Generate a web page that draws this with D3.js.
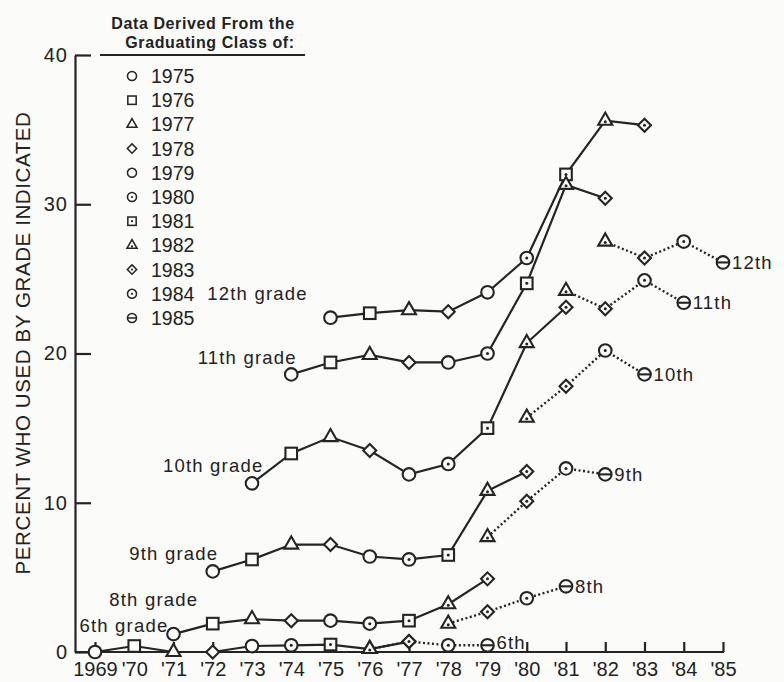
<!DOCTYPE html>
<html>
<head>
<meta charset="utf-8">
<script src="https://cdn.jsdelivr.net/npm/d3@7"></script>
<style>
  body { margin: 0; background: #fbfbf9; }
  svg { display: block; font-family: "Liberation Sans", Arial, sans-serif; }
  text { fill: #222; }
</style>
</head>
<body>
<svg id="chart" width="784" height="682"></svg>
<script>
// graduating classes, each class has its own marker
let classes = [1975, 1976, 1977, 1978, 1979, 1980, 1981, 1982, 1983, 1984, 1985];

// x axis tick labels, one per year
let years = d3.range(1969, 1986);
let yearLabels = ["1969", "'70", "'71", "'72", "'73", "'74", "'75", "'76", "'77",
    "'78", "'79", "'80", "'81", "'82", "'83", "'84", "'85"];

let grades = ["12th", "11th", "10th", "9th", "8th", "6th"];
let gradeNum = [12, 11, 10, 9, 8, 6];

// solid lines: classes of 1975 .. 1983
let solid12 = [22.4, 22.7, 22.9, 22.8, 24.1, 26.4, 32.0, 35.6, 35.3];
let solid11 = [18.6, 19.4, 19.9, 19.4, 19.4, 20.0, 24.7, 31.3, 30.4];
let solid10 = [11.3, 13.3, 14.4, 13.5, 11.9, 12.6, 15.0, 20.7, 23.1];
let solid9 = [5.4, 6.2, 7.2, 7.2, 6.4, 6.2, 6.5, 10.8, 12.1];
let solid8 = [1.2, 1.9, 2.2, 2.1, 2.1, 1.9, 2.1, 3.2, 4.9];
let solid6 = [0.0, 0.4, 0.0, 0.0, 0.4, 0.45, 0.5, 0.2, 0.7];

// dotted lines: classes of 1982 .. 1985
let dotted12 = [27.5, 26.4, 27.5, 26.1];
let dotted11 = [24.2, 23.0, 24.9, 23.4];
let dotted10 = [15.7, 17.8, 20.2, 18.6];
let dotted9 = [7.7, 10.1, 12.3, 11.9];
let dotted8 = [1.9, 2.7, 3.6, 4.4];
let dotted6 = [0.2, 0.7, 0.45, 0.45];

let solidSeries = [solid12, solid11, solid10, solid9, solid8, solid6];
let dottedSeries = [dotted12, dotted11, dotted10, dotted9, dotted8, dotted6];

// where the "Nth grade" labels sit, in (year, percent)
let gradeLabelAt = [[1974.42, 24.0], [1974.14, 19.7], [1973.29, 12.5],
    [1972.14, 6.6], [1971.63, 3.5], [1970.87, 1.8]];

// marker look for each class
let shapeOf = {
    1975: ["circle", false], 1976: ["square", false], 1977: ["triangle", false],
    1978: ["diamond", false], 1979: ["circle", false], 1980: ["circle", true],
    1981: ["square", true], 1982: ["triangle", true], 1983: ["diamond", true],
    1984: ["circle", true], 1985: ["theta", false]
};

let ink = "#242424";
let paper = "#fbfbf9";
let svg = d3.select("#chart");

let x = d3.scaleLinear().domain([1969, 1985]).range([95, 723]);
let y = d3.scaleLinear().domain([0, 40]).range([652, 55]);

// y axis
let yAxis = svg.append("g")
    .attr("transform", "translate(75,0)")
    .call(d3.axisLeft(y).tickValues([0, 10, 20, 30, 40]).tickSizeInner(-16).tickSizeOuter(0).tickPadding(7));
yAxis.selectAll("path, line").attr("stroke", ink).attr("stroke-width", 2.2);
yAxis.selectAll("text").attr("font-size", 20).attr("font-family", "Liberation Sans, Arial")
    .attr("fill", ink).attr("letter-spacing", 1);

// x axis
let xAxis = svg.append("g")
    .attr("transform", "translate(0,652)")
    .call(d3.axisBottom(x).tickValues(years).tickFormat(function (d, i) { return yearLabels[i]; })
        .tickSizeInner(-10).tickSizeOuter(0).tickPadding(10));
xAxis.select(".domain").remove();
xAxis.selectAll("line").attr("stroke", ink).attr("stroke-width", 2.2);
xAxis.selectAll("text").attr("font-size", 20).attr("font-family", "Liberation Sans, Arial")
    .attr("fill", ink);
xAxis.append("line")
    .attr("x1", 75).attr("x2", x(1985) + 1)
    .attr("stroke", ink).attr("stroke-width", 2.2);

// y axis title
svg.append("text")
    .attr("transform", "translate(30,343) rotate(-90)")
    .attr("text-anchor", "middle")
    .attr("font-size", 20.5)
    .attr("letter-spacing", 0.6)
    .text("PERCENT WHO USED BY GRADE INDICATED");

// draws one marker at (cx, cy)
let drawMarker = function (g, cls, cx, cy, k) {
    let kind = shapeOf[cls][0];
    let dot = shapeOf[cls][1];
    let m = g.append("g").attr("transform", "translate(" + cx + "," + cy + ")");
    let sw = 2.1 * k;
    if (kind === "circle" || kind === "theta") {
        m.append("circle").attr("r", 6.3 * k).attr("fill", paper).attr("stroke", ink).attr("stroke-width", sw);
        if (kind === "theta") {
            m.append("line").attr("x1", -6.3 * k).attr("x2", 6.3 * k).attr("stroke", ink).attr("stroke-width", sw);
        }
    } else if (kind === "square") {
        m.append("rect").attr("x", -5.8 * k).attr("y", -5.8 * k).attr("width", 11.6 * k).attr("height", 11.6 * k)
            .attr("fill", paper).attr("stroke", ink).attr("stroke-width", sw);
    } else if (kind === "triangle") {
        m.append("path").attr("d", d3.symbol().type(d3.symbolTriangle).size(85 * k * k)())
            .attr("fill", paper).attr("stroke", ink).attr("stroke-width", sw);
    } else if (kind === "diamond") {
        m.append("rect").attr("x", -4.6 * k).attr("y", -4.6 * k).attr("width", 9.2 * k).attr("height", 9.2 * k)
            .attr("transform", "rotate(45)")
            .attr("fill", paper).attr("stroke", ink).attr("stroke-width", sw);
    }
    if (dot) {
        m.append("circle").attr("r", 1.5 * k).attr("cy", kind === "triangle" ? 1 : 0).attr("fill", ink);
    }
}

let line = d3.line()
    .x(function (d) { return x(d.year); })
    .y(function (d) { return y(d.value); });

let plot = svg.append("g");

grades.forEach(function (grade, gi) {
    let offset = 12 - gradeNum[gi];
    let solid = solidSeries[gi].map(function (v, i) {
        return { cls: classes[i], year: classes[i] - offset, value: v };
    });
    let dotted = dottedSeries[gi].map(function (v, i) {
        return { cls: classes[i + 7], year: classes[i + 7] - offset, value: v };
    });

    plot.append("path").datum(solid).attr("d", line)
        .attr("fill", "none").attr("stroke", ink).attr("stroke-width", 2.2);
    plot.append("path").datum(dotted).attr("d", line)
        .attr("fill", "none").attr("stroke", ink).attr("stroke-width", 2.4)
        .attr("stroke-dasharray", "2,2.5");

    solid.forEach(function (d) { drawMarker(plot, d.cls, x(d.year), y(d.value), 1); });
    dotted.forEach(function (d) { drawMarker(plot, d.cls, x(d.year), y(d.value), 1); });

    // grade label at the start of the solid line
    plot.append("text")
        .attr("x", x(gradeLabelAt[gi][0]))
        .attr("y", y(gradeLabelAt[gi][1]))
        .attr("dy", "0.35em")
        .attr("text-anchor", "end")
        .attr("font-size", 18.5)
        .attr("letter-spacing", 1.2)
        .text(grade + " grade");

    // label at the end of the dotted line
    let last = dotted[dotted.length - 1];
    plot.append("text")
        .attr("x", x(last.year) + 9)
        .attr("y", y(last.value) - (gi === 5 ? 3 : 0))
        .attr("dy", "0.36em")
        .attr("font-size", 18.5)
        .attr("letter-spacing", 1.2)
        .text(grade);
});

// legend
let legend = svg.append("g");
legend.append("text").attr("x", 203).attr("y", 29).attr("text-anchor", "middle")
    .attr("font-size", 16).attr("font-weight", "bold").attr("letter-spacing", 0.6).text("Data Derived From the");
legend.append("text").attr("x", 210).attr("y", 48).attr("text-anchor", "middle")
    .attr("font-size", 16).attr("font-weight", "bold").attr("letter-spacing", 0.6).text("Graduating Class of:");
legend.append("line").attr("x1", 100).attr("x2", 305).attr("y1", 55).attr("y2", 55)
    .attr("stroke", ink).attr("stroke-width", 2.2);

classes.forEach(function (c, i) {
    let ly = 76 + i * 24.2;
    drawMarker(legend, c, 132, ly, 0.72);
    legend.append("text").attr("x", 151).attr("y", ly).attr("dy", "0.36em")
        .attr("font-size", 19.5).text(c);
});
</script>
</body>
</html>
